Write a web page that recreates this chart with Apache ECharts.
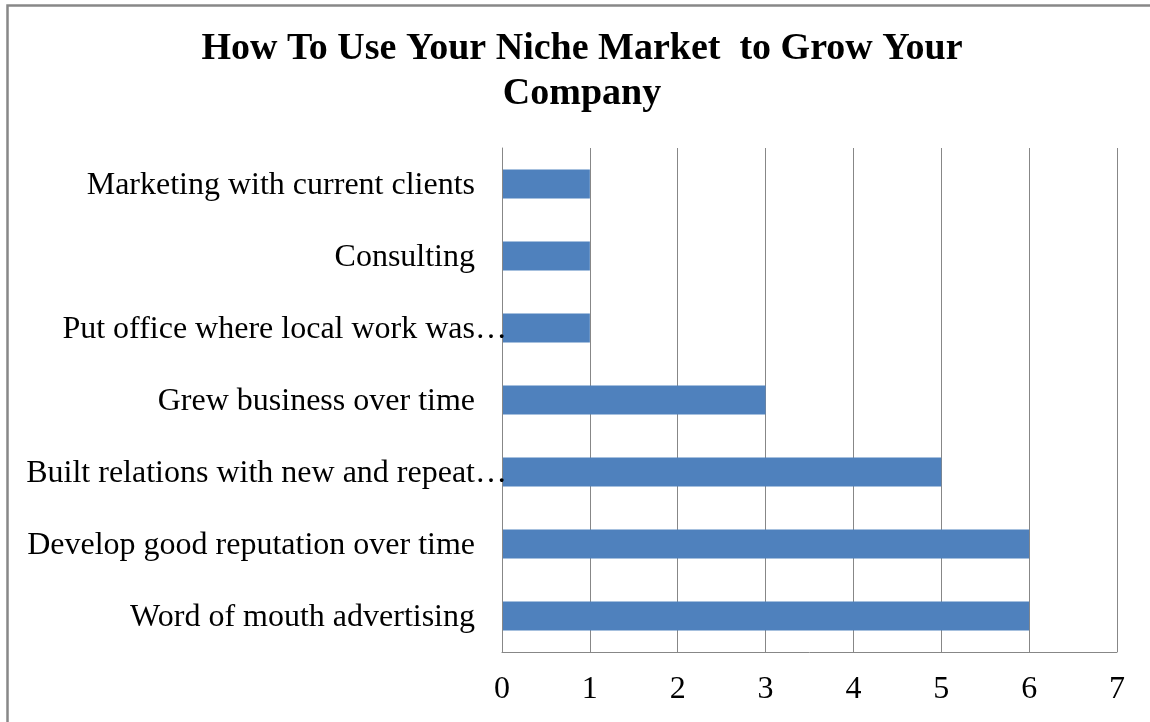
<!DOCTYPE html>
<html>
<head>
<meta charset="utf-8">
<script src="https://cdn.jsdelivr.net/npm/echarts@6/dist/echarts.min.js"></script>
<style>
  html, body { margin: 0; padding: 0; background: #fff; }
  #chart { width: 1150px; height: 722px; }
</style>
</head>
<body>
<div id="chart"></div>
<script>
// Categories, top to bottom
const categories = [
  'Marketing with current clients',
  'Consulting',
  'Put office where local work was\u2026',
  'Grew business over time',
  'Built relations with new and repeat\u2026',
  'Develop good reputation over time',
  'Word of mouth advertising'
];
const values = [1, 1, 1, 3, 5, 6, 6];
const titleText = 'How To Use Your Niche Market  to Grow Your\nCompany';
const xTicks = { min: 0, max: 7, step: 1 };

const SERIF = '"Liberation Serif", "Times New Roman", serif';
const GRID = '#878787';

const chart = echarts.init(document.getElementById('chart'), null, { renderer: 'canvas' });

chart.setOption({
  backgroundColor: '#ffffff',
  animation: false,
  grid: { left: 502, right: 33, top: 148, bottom: 70, containLabel: false },
  graphic: [
    {
      type: 'rect',
      shape: { x: 7.5, y: 5.5, width: 1300, height: 900 },
      style: { fill: 'none', stroke: '#888888', lineWidth: 2.5 },
      silent: true
    },
    {
      type: 'text',
      x: 582,
      y: 27,
      style: {
        text: titleText,
        align: 'center',
        verticalAlign: 'top',
        fontFamily: SERIF,
        fontWeight: 'bold',
        fontSize: 38,
        lineHeight: 45,
        fill: '#000000'
      }
    }
  ],
  xAxis: {
    type: 'value',
    min: xTicks.min,
    max: xTicks.max,
    interval: xTicks.step,
    axisLine: { show: true, lineStyle: { color: GRID, width: 1 } },
    axisTick: { show: false },
    splitLine: { show: true, lineStyle: { color: GRID, width: 1 } },
    axisLabel: {
      margin: 22,
      fontFamily: SERIF,
      fontSize: 32,
      lineHeight: 32,
      color: '#000000'
    }
  },
  yAxis: {
    type: 'category',
    inverse: true,
    z: 5,
    data: categories,
    axisLine: { show: true, lineStyle: { color: GRID, width: 1 } },
    axisTick: { show: false },
    axisLabel: {
      margin: -5,
      interval: 0,
      fontFamily: SERIF,
      fontSize: 32,
      color: '#000000',
      formatter: function (v) {
        return v.endsWith('\u2026') ? '{cut|' + v + '}' : '{full|' + v + '}';
      },
      rich: {
        full: { fontFamily: SERIF, fontSize: 32, color: '#000000', padding: [4, 32, 0, 0] },
        cut: { fontFamily: SERIF, fontSize: 32, color: '#000000', padding: [4, 0, 0, 0] }
      }
    }
  },
  series: [
    {
      type: 'bar',
      data: values,
      barCategoryGap: '60%',
      itemStyle: { color: '#4F81BD' }
    }
  ]
});
</script>
</body>
</html>
